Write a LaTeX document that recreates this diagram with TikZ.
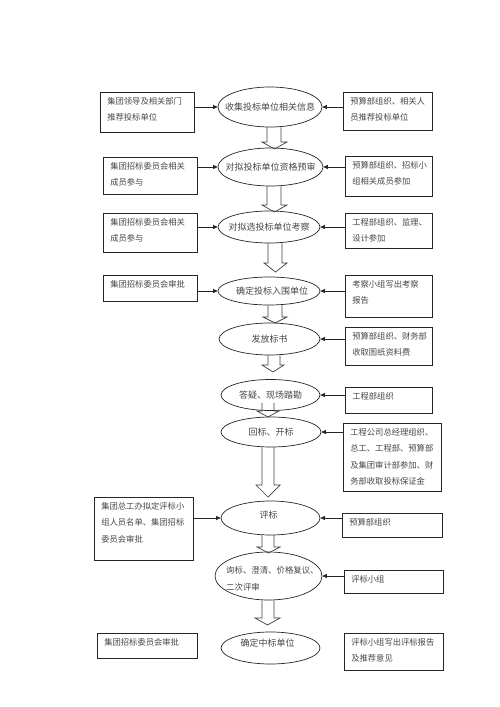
\documentclass[tikz,border=0pt]{standalone}
\usepackage{fontspec}
\newfontfamily\cjk{Noto Sans CJK SC}
\usetikzlibrary{shapes.geometric,arrows.meta,calc}
\newcommand{\mybox}[6]{%
  \node[boxst, minimum width={(#4-#2)*1pt}, minimum height={(#5-#3)*1pt}] (#1) at ({(#2+#4)/2},{(#3+#5)/2}) {};
  \node[btxt, anchor=north west] (#1t) at ($(#1.north west)+(7.5,5.5)$) {#6};}
\newcommand{\myell}[5]{%
  \node[ell, minimum width=#4pt, minimum height=#5pt] (#1) at (#2,#3) {};}
\newcommand{\blkarrow}[8]{%
  \draw[blk] ($(#2,0 |- #1.south)+(0,-#8)$) -- (#2,#6) -- (#4,#6) -- ({(#4+#5)/2},#7) -- (#5,#6) -- (#3,#6) -- ($(#3,0 |- #1.south)+(0,-#8)$);}
\begin{document}
\begin{tikzpicture}[x=1pt,y=-1pt,
  boxst/.style={draw=black!85, rectangle, line width=0.8pt, inner sep=0pt},
  btxt/.style={font=\cjk\fontsize{8.3}{16.5}\selectfont, align=left, inner sep=0pt, text=black!72},
  ell/.style={draw=black!85, ellipse, line width=0.7pt, inner sep=0pt},
  etxt/.style={font=\cjk\fontsize{9}{17}\selectfont, inner sep=0pt, text=black!72},
  conn/.style={line width=0.8pt, draw=black!85, -{Triangle[length=4.5pt,width=4pt]}},
  blk/.style={line width=0.7pt, draw=black!75}]
\useasboundingbox[fill=white] (0,0) rectangle (500,707);

% ellipses
\myell{E1}{270}{107}{104}{40}
\myell{E2}{270.5}{167}{105}{38}
\myell{E3}{269}{227}{102}{32}
\myell{E4}{269}{291}{102}{28}
\myell{E5}{269.5}{339}{101}{32}
\myell{E6}{270.5}{395}{99}{31}
\myell{E7}{271}{432}{100}{30}
\myell{E8}{270.5}{518}{99}{34}
\myell{E9}{268.5}{576}{107}{48}
\myell{E10}{270.5}{648}{99}{32}

\node[etxt] (E1t) at (E1) {收集投标单位相关信息};
\node[etxt] (E2t) at (E2) {对拟投标单位资格预审};
\node[etxt] (E3t) at (E3) {对拟选投标单位考察};
\node[etxt] (E4t) at ($(E4)+(3,0)$) {确定投标入围单位};
\node[etxt] (E5t) at (E5) {发放标书};
\node[etxt] (E6t) at (E6) {答疑、现场踏勘};
\node[etxt] (E7t) at (E7) {回标、开标};
\node[etxt] (E8t) at ($(E8)+(-2,-3)$) {评标};
\node[etxt, font=\cjk\fontsize{8.4}{17}\selectfont, align=left, anchor=west] (E9t) at (226,579) {询标、澄清、价格复议、\\二次评审};
\node[etxt] (E10t) at ($(E10)+(-3,-5)$) {确定中标单位};

% left boxes
\mybox{L1}{100}{92}{194}{132}{集团领导及相关部门\\推荐投标单位}
\mybox{L2}{103}{157}{197}{194}{集团招标委员会相关\\成员参与}
\mybox{L3}{103}{213}{197}{252}{集团招标委员会相关\\成员参与}
\mybox{L4}{103}{275}{197}{301}{集团招标委员会审批}
\mybox{L8}{94}{497}{193}{560}{集团总工办拟定评标小\\组人员名单、集团招标\\委员会审批}
\mybox{L10}{97}{633}{197}{658}{集团招标委员会审批}

% right boxes
\mybox{R1}{343}{92}{432}{130}{预算部组织、相关人\\员推荐投标单位}
\mybox{R2}{345}{156}{432}{196}{预算部组织、招标小\\组相关成员参加}
\mybox{R3}{345}{213}{432}{248}{工程部组织、监理、\\设计参加}
\mybox{R4}{345}{275}{432}{317}{考察小组写出考察\\报告}
\mybox{R5}{345}{327}{432}{365}{预算部组织、财务部\\收取图纸资料费}
\mybox{R6}{345}{387}{432}{413}{工程部组织}
\mybox{R7}{343}{423}{441}{491}{工程公司总经理组织、\\总工、工程部、预算部\\及集团审计部参加、财\\务部收取投标保证金}
\mybox{R8}{342}{513}{442}{537}{预算部组织}
\mybox{R9}{344}{570}{443}{593}{评标小组}
\mybox{R10}{344}{633}{443}{670}{评标小组写出评标报告\\及推荐意见}

% side connectors
\draw[conn] (L1.east |- E1.west) -- (E1.west);
\draw[conn] (L2.east |- E2.west) -- (E2.west);
\draw[conn] (L3.east |- E3.west) -- (E3.west);
\draw[conn] (L4.east |- E4.west) -- (E4.west);
\draw[conn] (L8.east |- E8.west) -- (E8.west);
\draw[conn] (R1.west |- E1.east) -- (E1.east);
\draw[conn] (R2.west |- E2.east) -- (E2.east);
\draw[conn] (R3.west |- E3.east) -- (E3.east);
\draw[conn] (R4.west |- E4.east) -- (E4.east);
\draw[conn] (R5.west |- E5.east) -- (E5.east);
\draw[conn] (R6.west |- E6.east) -- (E6.east);
\draw[conn] (R7.west |- E7.east) -- (E7.east);
\draw[conn] (R8.west |- E8.east) -- (E8.east);
\draw[conn] (R9.west |- E9.east) -- (E9.east);

% block arrows
\blkarrow{E1}{267}{281}{262}{287}{142}{149}{0}
\blkarrow{E2}{267}{281}{262}{287}{205}{212}{0}
\blkarrow{E3}{268}{282}{264}{287}{263}{272}{0}
\blkarrow{E4}{268}{282}{263}{287}{317}{323}{0}
\blkarrow{E5}{268}{280}{262}{284}{365}{372}{0}
\blkarrow{E6}{262}{274}{257}{279}{411}{417}{8}
\blkarrow{E7}{262}{274}{256}{280}{485}{497}{0}
\blkarrow{E8}{262}{274}{257}{280}{547}{553}{0}
\blkarrow{E9}{262}{274}{255}{280}{618}{625}{0}
\end{tikzpicture}
\end{document}
